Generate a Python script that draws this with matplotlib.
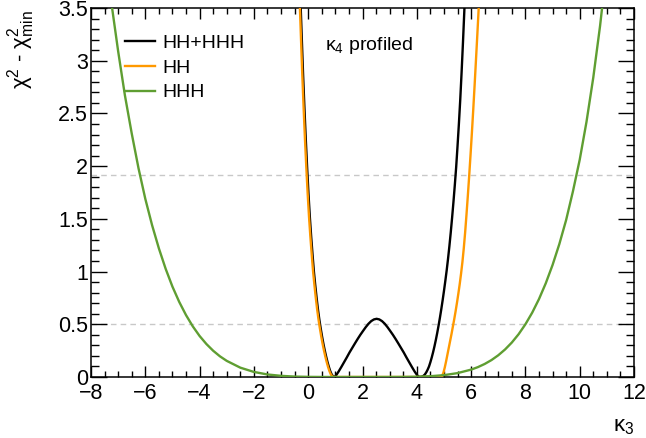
import matplotlib
matplotlib.use("Agg")
import matplotlib.pyplot as plt
from matplotlib.ticker import MultipleLocator

plt.rcParams['font.family'] = ['Liberation Sans', 'DejaVu Sans']
plt.rcParams['mathtext.fontset'] = 'custom'
plt.rcParams['mathtext.rm'] = 'Liberation Sans'
plt.rcParams['mathtext.default'] = 'regular'

# kappa3 scan, values
hhhh_x = [-0.34, -0.29, -0.24, -0.19, -0.14, -0.09, -0.04, 0.01, 0.06, 0.11, 0.16, 0.21,
          0.26, 0.31, 0.36, 0.41, 0.46, 0.51, 0.56, 0.61, 0.66, 0.71, 0.76, 0.81, 0.86,
          0.91, 0.97, 1.02, 1.12, 1.22, 1.32, 1.42, 1.52, 1.62, 1.72, 1.82, 1.92, 2.02,
          2.12, 2.22, 2.32, 2.42, 2.52, 2.62, 2.72, 2.82, 2.92, 3.02, 3.12, 3.22, 3.32,
          3.42, 3.52, 3.62, 3.72, 3.82, 3.92, 4.02, 4.07, 4.12, 4.20, 4.25, 4.30, 4.35,
          4.40, 4.45, 4.50, 4.55, 4.60, 4.65, 4.70, 4.75, 4.80, 4.85, 4.90, 4.95, 5.00,
          5.05, 5.10, 5.15, 5.20, 5.25, 5.30, 5.35, 5.40, 5.45, 5.50, 5.55, 5.60, 5.65,
          5.70, 5.75, 5.80]
hhhh_y = [4.01, 3.61, 3.24, 2.88, 2.56, 2.26, 1.99, 1.74, 1.52, 1.33, 1.16, 1.00,
          0.87, 0.75, 0.64, 0.545, 0.462, 0.385, 0.315, 0.252, 0.195, 0.143, 0.097, 0.057, 0.027,
          0.008, 0.0, 0.013, 0.052, 0.095, 0.140, 0.185, 0.232, 0.275, 0.318, 0.360, 0.400, 0.437,
          0.473, 0.505, 0.530, 0.546, 0.552, 0.546, 0.530, 0.505, 0.473, 0.437, 0.400, 0.360, 0.318,
          0.275, 0.232, 0.185, 0.140, 0.095, 0.052, 0.015, 0.004, 0.0, 0.005, 0.012, 0.025, 0.045,
          0.07, 0.10, 0.14, 0.185, 0.235, 0.29, 0.35, 0.415, 0.485, 0.56, 0.64, 0.725, 0.815,
          0.91, 1.01, 1.12, 1.24, 1.37, 1.51, 1.66, 1.82, 1.99, 2.19, 2.40, 2.63, 2.89,
          3.17, 3.47, 3.78]

hh_x = [-0.37, -0.32, -0.27, -0.22, -0.17, -0.12, -0.07, -0.02, 0.03, 0.08, 0.13, 0.18,
        0.23, 0.28, 0.33, 0.38, 0.43, 0.48, 0.53, 0.58, 0.63, 0.68, 0.73, 0.78, 0.83,
        0.88, 0.93, 2.50, 4.88, 4.93, 4.98, 5.03, 5.08, 5.13, 5.18, 5.23, 5.28, 5.33,
        5.38, 5.43, 5.48, 5.53, 5.58, 5.63, 5.68, 5.73, 5.78, 5.83, 5.88, 5.93, 5.98,
        6.03, 6.08, 6.13, 6.18, 6.23, 6.28, 6.33, 6.38]
hh_y = [4.01, 3.61, 3.24, 2.88, 2.56, 2.26, 1.99, 1.74, 1.52, 1.33, 1.16, 1.00,
        0.87, 0.75, 0.64, 0.545, 0.462, 0.385, 0.315, 0.252, 0.195, 0.143, 0.097, 0.057, 0.027,
        0.008, 0.0, 0.0, 0.0, 0.01, 0.04, 0.09, 0.15, 0.215, 0.28, 0.345, 0.41, 0.48,
        0.55, 0.625, 0.705, 0.79, 0.88, 0.98, 1.09, 1.22, 1.37, 1.54, 1.72, 1.91, 2.11,
        2.32, 2.54, 2.77, 3.01, 3.25, 3.50, 3.75, 4.00]

hhh_x = [-7.50, -7.25, -7.00, -6.75, -6.50, -6.25, -6.00, -5.75, -5.50, -5.25, -5.00, -4.75,
         -4.50, -4.25, -4.00, -3.75, -3.50, -3.25, -3.00, -2.50, -2.00, -1.50, -1.00, -0.50,
         0.00, 0.50, 1.00, 2.00, 3.00, 3.50, 4.00, 4.50, 5.00, 5.50, 6.00, 6.25, 6.50, 6.75,
         7.00, 7.25, 7.50, 7.75, 8.00, 8.25, 8.50, 8.75, 9.00, 9.25, 9.50, 9.75, 10.00,
         10.25, 10.50, 10.75, 11.00]
hhh_y = [4.06, 3.55, 3.09, 2.67, 2.31, 1.98, 1.69, 1.44, 1.22, 1.026, 0.857, 0.712,
         0.587, 0.480, 0.389, 0.313, 0.249, 0.196, 0.153, 0.0885, 0.048, 0.024, 0.011, 0.004,
         0.0012, 0.0003, 0.0, 0.0, 0.0001, 0.0007, 0.0026, 0.0074, 0.0176, 0.0368, 0.07, 0.0937, 0.1236, 0.1605,
         0.206, 0.261, 0.327, 0.406, 0.50, 0.610, 0.739, 0.889, 1.062, 1.261, 1.489, 1.76, 2.06,
         2.42, 2.84, 3.33, 3.90]

ref_levels = [0.5, 1.92]
labels = ['HH+HHH', 'HH', 'HHH']
colors = ['black', '#ff9900', '#5f9e32']

fig = plt.figure(figsize=(6.46, 4.38), dpi=100)
ax = fig.add_axes([91/646, 1 - 377/438, 543/646, 369/438])

for lev in ref_levels:
    ax.axhline(lev, color='#c8c8c8', lw=1.0, ls=(0, (4, 3)), zorder=1)

ax.plot(hhhh_x, hhhh_y, color=colors[0], lw=1.7, label=labels[0], zorder=3)
ax.plot(hh_x, hh_y, color=colors[1], lw=1.7, label=labels[1], zorder=4)
ax.plot(hhh_x, hhh_y, color=colors[2], lw=1.7, label=labels[2], zorder=5)

ax.set_xlim(-8, 12)
ax.set_ylim(0, 3.5)

ax.xaxis.set_major_locator(MultipleLocator(2))
ax.xaxis.set_minor_locator(MultipleLocator(0.5))
ax.yaxis.set_minor_locator(MultipleLocator(0.1))
ax.set_yticks([0, 0.5, 1, 1.5, 2, 2.5, 3, 3.5])
ax.set_yticklabels(['0', '0.5', '1', '1.5', '2', '2.5', '3', '3.5'])

ax.tick_params(axis='both', which='both', direction='in', top=True, right=True,
               labelsize=15.5, width=1.0)
ax.tick_params(axis='x', which='major', length=8, pad=4.5)
ax.tick_params(axis='x', which='minor', length=4)
ax.tick_params(axis='y', which='major', length=11.5, pad=2)
ax.tick_params(axis='y', which='minor', length=6)
for sp in ax.spines.values():
    sp.set_linewidth(1.1)

ax.text(1.0, -0.147, 'κ$_3$', transform=ax.transAxes, ha='right', va='baseline', fontsize=16)
ax.text(-0.128, 0.995, 'χ$^2$ - χ$^2_{min}$', transform=ax.transAxes, rotation=90,
        ha='center', va='top', fontsize=16)
ax.text(0.431, 0.886, 'κ$_4$ profiled', transform=ax.transAxes, ha='left', va='baseline', fontsize=14)

ax.legend(loc='upper left', bbox_to_anchor=(0.062, 0.928), frameon=False, fontsize=14,
          handlelength=1.55, handletextpad=0.4, labelspacing=0.36, borderpad=0, borderaxespad=0)

fig.savefig('out.png', dpi=100)
